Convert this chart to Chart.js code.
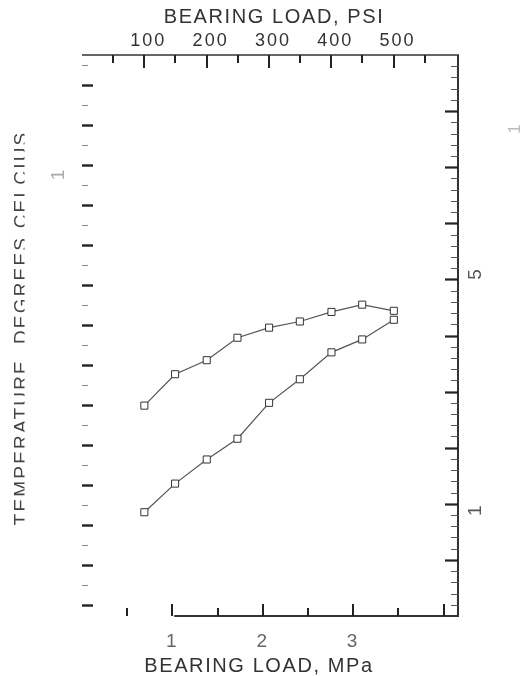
<!DOCTYPE html>
<html><head><meta charset="utf-8">
<script src="https://cdn.jsdelivr.net/npm/chart.js@4.4.1/dist/chart.umd.min.js"></script>
<style>html,body{margin:0;padding:0;background:#fff;overflow:hidden}canvas{display:block}</style>
</head><body>
<canvas id="c" width="521" height="676"></canvas>
<script>
// ---- data ----
const loadMPa   = [0.69, 1.03, 1.38, 1.72, 2.07, 2.41, 2.76, 3.10, 3.45];
const upperTemp = [2.75, 3.31, 3.56, 3.96, 4.14, 4.25, 4.42, 4.55, 4.44];
const lowerTemp = [0.85, 1.36, 1.79, 2.16, 2.80, 3.22, 3.70, 3.93, 4.28];

// ---- tick labels ----
const mpaTickLabels   = [1, 2, 3];
const psiTickLabels   = [100, 200, 300, 400, 500];
const rightTickLabels = ['1', '5'];
const rightTickLabelValues = [1, 5];

// ---- tick mark positions ----
const mpaTickValues = [0.5, 1, 1.5, 2, 2.5, 3, 3.5, 4];
const psiTickValues = [50, 100, 150, 200, 250, 300, 350, 400, 450, 500, 550];

// ---- axis ranges ----
const X_MIN = 0, X_MAX = 4.16;
const PSI_PER_MPA = 145.04;
const Y_MIN = -1, Y_MAX = 9;
const YL_MIN = -0.275, YL_MAX = 13.75;

const FONT = '"Liberation Sans", Arial, sans-serif';

function seg(ctx, x1, y1, x2, y2, w, c) {
  ctx.beginPath(); ctx.lineWidth = w; ctx.strokeStyle = c;
  ctx.moveTo(x1, y1); ctx.lineTo(x2, y2); ctx.stroke();
}
function rotText(ctx, txt, x, y, font, color) {
  ctx.save(); ctx.translate(x, y); ctx.rotate(-Math.PI / 2);
  ctx.font = font; ctx.fillStyle = color; ctx.textAlign = 'center'; ctx.textBaseline = 'middle';
  ctx.fillText(txt, 0, 0); ctx.restore();
}

const framePlugin = {
  id: 'frame',
  beforeDraw(chart) {
    const ctx = chart.ctx;
    ctx.save(); ctx.fillStyle = '#fff'; ctx.fillRect(0, 0, chart.width, chart.height); ctx.restore();
    ctx.letterSpacing = '2px';
  },
  afterDraw(chart) {
    const { ctx, chartArea: a, scales } = chart;
    const x = scales.x, xt = scales.xTop, y = scales.y, yl = scales.yL;
    ctx.save();
    ctx.lineCap = 'butt';
    // frame lines
    seg(ctx, a.left, a.top, a.right + 1, a.top, 1.6, '#333');
    seg(ctx, a.right, a.top, a.right, a.bottom + 1, 2, '#333');
    seg(ctx, x.getPixelForValue(1.02), a.bottom, a.right, a.bottom, 2, '#333');
    // bottom ticks (inward)
    mpaTickValues.forEach(v => {
      const px = Math.round(x.getPixelForValue(v));
      const len = Number.isInteger(v) ? 12 : 8;
      seg(ctx, px, a.bottom, px, a.bottom - len, 2, '#222');
    });
    // top ticks (inward)
    psiTickValues.forEach(v => {
      const px = Math.round(xt.getPixelForValue(v));
      const len = v % 100 === 0 ? 13 : 8;
      seg(ctx, px, a.top, px, a.top + len, 2, '#222');
    });
    // right ticks
    for (let i = Y_MIN * 5 + 1; i < Y_MAX * 5; i++) {
      const py = Math.round(y.getPixelForValue(i / 5)) + 0.5;
      if (i % 5 === 0) seg(ctx, a.right, py, a.right - 13, py, 2.2, '#222');
      else seg(ctx, a.right, py, a.right - 7, py, 1, '#555');
    }
    // left ticks
    for (let i = 0; i <= 27; i++) {
      const py = Math.round(yl.getPixelForValue(i / 2)) + 0.5;
      if (i % 2 === 0) seg(ctx, a.left, py, a.left + 11, py, 2.4, '#222');
      else seg(ctx, a.left, py, a.left + 6, py, 1, '#888');
    }
    // right rotated tick labels
    ctx.letterSpacing = '0px';
    rightTickLabels.forEach((t, k) => {
      const py = y.getPixelForValue(rightTickLabelValues[k]);
      rotText(ctx, t, 476, py + (t === '1' ? 7 : -5), '19px ' + FONT, '#555');
    });
    // stray faint marks
    rotText(ctx, '1', 59, 175, '19px ' + FONT, '#aaa');
    rotText(ctx, '1', 515, 129, '17px ' + FONT, '#bbb');

    // titles
    ctx.fillStyle = '#333';
    ctx.font = '20px ' + FONT;
    ctx.textAlign = 'center'; ctx.textBaseline = 'alphabetic';
    ctx.letterSpacing = '1.6px';
    ctx.fillText('BEARING LOAD, PSI', 274, 23);
    ctx.fillText('BEARING LOAD, MPa', 259, 672);

    // left rotated title (scan-clipped at the right)
    ctx.save();
    ctx.beginPath(); ctx.rect(0, 0, 24.5, chart.height); ctx.clip();
    ctx.translate(27, 328); ctx.rotate(-Math.PI / 2);
    ctx.font = '19px ' + FONT; ctx.fillStyle = '#444';
    ctx.letterSpacing = '2.2px';
    ctx.textAlign = 'center'; ctx.textBaseline = 'alphabetic';
    ctx.fillText('TEMPERATURE, DEGREES CELCIUS', 0, 0);
    ctx.restore();
    ctx.restore();
  }
};

const toPts = ys => loadMPa.map((v, i) => ({ x: v, y: ys[i] }));
const ds = (label, ys) => ({
  label, data: toPts(ys),
  borderColor: '#555', borderWidth: 1.2,
  pointStyle: 'rect', pointRadius: 5, pointBorderWidth: 1,
  pointBorderColor: '#333', pointBackgroundColor: '#fff',
  fill: false, tension: 0
});

new Chart(document.getElementById('c'), {
  type: 'line',
  data: { datasets: [ds('upper', upperTemp), ds('lower', lowerTemp)] },
  options: {
    responsive: false, animation: false, devicePixelRatio: 1,
    layout: { padding: 0 },
    plugins: { legend: { display: false }, tooltip: { enabled: false } },
    scales: {
      x: {
        type: 'linear', position: 'bottom', min: X_MIN, max: X_MAX,
        afterFit: s => { s.height = 60; },
        grid: { display: false }, border: { display: false },
        ticks: {
          stepSize: 0.5, autoSkip: false, maxRotation: 0, minRotation: 0, padding: 6,
          font: { family: FONT, size: 19 }, color: '#666',
          callback: v => mpaTickLabels.includes(v) ? String(v) : null
        }
      },
      xTop: {
        type: 'linear', position: 'top', min: X_MIN * PSI_PER_MPA, max: X_MAX * PSI_PER_MPA,
        afterFit: s => { s.height = 55; },
        grid: { display: false }, border: { display: false },
        ticks: {
          stepSize: 50, autoSkip: false, maxRotation: 0, minRotation: 0, padding: -5, labelOffset: 4,
          font: { family: FONT, size: 18 }, color: '#333',
          callback: v => psiTickLabels.includes(v) ? String(v) : null
        }
      },
      y: {
        type: 'linear', position: 'right', min: Y_MIN, max: Y_MAX,
        afterFit: s => { s.width = 63; },
        grid: { display: false }, border: { display: false },
        ticks: { display: false }
      },
      yL: {
        type: 'linear', position: 'left', min: YL_MIN, max: YL_MAX,
        afterFit: s => { s.width = 82; },
        grid: { display: false }, border: { display: false },
        ticks: { display: false }
      }
    }
  },
  plugins: [framePlugin]
});
</script>
</body></html>
